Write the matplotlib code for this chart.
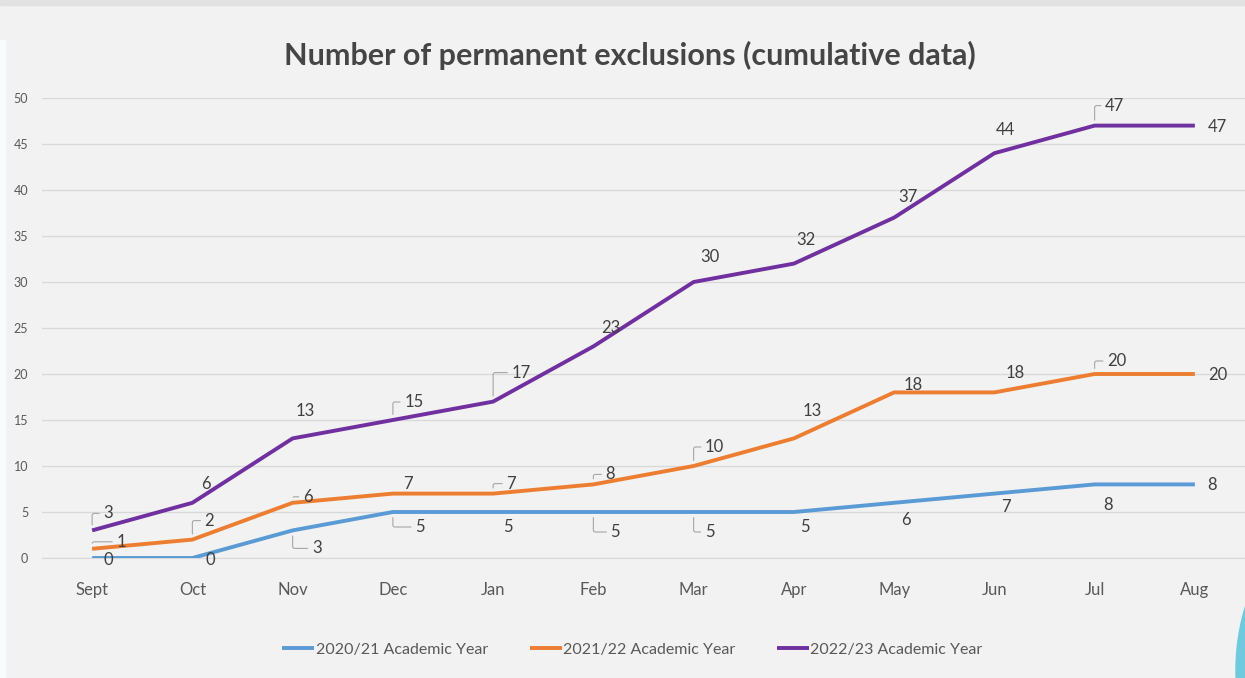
import matplotlib
matplotlib.use("Agg")
import matplotlib.pyplot as plt
from matplotlib.patches import Ellipse, Rectangle

# data
months = ["Sept", "Oct", "Nov", "Dec", "Jan", "Feb", "Mar", "Apr", "May", "Jun", "Jul", "Aug"]
series_names = ["2020/21 Academic Year", "2021/22 Academic Year", "2022/23 Academic Year"]
year_2020_21 = [0, 0, 3, 5, 5, 5, 5, 5, 6, 7, 8, 8]
year_2021_22 = [1, 2, 6, 7, 7, 8, 10, 13, 18, 18, 20, 20]
year_2022_23 = [3, 6, 13, 15, 17, 23, 30, 32, 37, 44, 47, 47]
y_ticks = [0, 5, 10, 15, 20, 25, 30, 35, 40, 45, 50]

# label offsets (pixels) per series, and whether a leader line is drawn
off_blue = [(16, -2), (18, -2), (24, -18), (27, -15), (15, -15), (22, -20),
            (16, -20), (11, -15), (12, -17), (12, -13), (13, -21), (17, -1)]
off_orange = [(29, 7), (17, 19), (15, 6), (15, 10), (18, 10), (17, 10),
              (21, 19), (18, 27), (19, 7), (21, 19), (22, 13), (23, -1)]
off_purple = [(16, 17), (14, 19), (13, 27), (21, 18), (28, 29), (17, 18),
              (16, 25), (12, 24), (14, 21), (11, 23), (20, 20), (23, -1)]
lead_blue = [0, 0, 1, 1, 0, 1, 1, 0, 0, 0, 0, 0]
lead_orange = [1, 1, 1, 0, 1, 1, 1, 0, 0, 0, 1, 0]
lead_purple = [1, 0, 0, 1, 1, 0, 0, 0, 0, 0, 1, 0]

colors = ["#5B9BD5", "#ED7D31", "#7030A0"]
plt.rcParams["font.family"] = ["Lato", "DejaVu Sans"]

fig = plt.figure(figsize=(12.45, 6.78), dpi=100)
fig.patch.set_facecolor("#f2f2f2")

# frame bits
fig.patches.append(Rectangle((0, 1 - 5 / 678), 1, 5 / 678, transform=fig.transFigure,
                             color="#e2e2e2", zorder=0))
fig.patches.append(Rectangle((0, 0), 5 / 1245, 1 - 40 / 678, transform=fig.transFigure,
                             color="#f7fdfd", zorder=0))

ax = fig.add_axes([42 / 1245, 1 - 558 / 678, 1 - 42 / 1245, (558 - 98) / 678])
ax.set_facecolor("#f2f2f2")

x = range(len(months))
all_series = [year_2020_21, year_2021_22, year_2022_23]
all_offsets = [off_blue, off_orange, off_purple]
all_leads = [lead_blue, lead_orange, lead_purple]
for vals, name, col, offs, leads in zip(all_series, series_names, colors,
                                        all_offsets, all_leads):
    ax.plot(x, vals, color=col, linewidth=2.8, label=name, solid_capstyle="butt",
            zorder=3)
    for i, (v, (dx, dy), ld) in enumerate(zip(vals, offs, leads)):
        props = None
        if ld:
            props = dict(arrowstyle="-", color="#a6a6a6", lw=0.8,
                         shrinkA=1, shrinkB=4,
                         connectionstyle="angle,angleA=0,angleB=90,rad=2")
        ax.annotate(str(v), (i, v), xytext=(dx, dy), textcoords="offset pixels",
                    ha="center", va="center", fontsize=12, color="#404040",
                    arrowprops=props, zorder=4)

ax.set_xlim(-0.5, len(months) - 0.5)
ax.set_ylim(0, 50)
ax.set_yticks(y_ticks)
ax.set_yticklabels([str(t) for t in y_ticks], fontsize=9, color="#595959")
ax.set_xticks(list(x))
ax.set_xticklabels(months, fontsize=12, color="#595959")
ax.tick_params(axis="y", length=0, pad=10)
ax.tick_params(axis="x", length=0, pad=17)
ax.grid(axis="y", color="#d9d9d9", linewidth=1)
ax.set_axisbelow(True)
for s in ["top", "right", "left"]:
    ax.spines[s].set_visible(False)
ax.spines["bottom"].set_color("#d9d9d9")

fig.text(0.506, 1 - 55 / 678, "Number of permanent exclusions (cumulative data)",
         ha="center", va="center", fontsize=22, fontweight="bold", color="#454545")

fig.legend(loc="center", bbox_to_anchor=(0.508, 1 - 650 / 678), ncol=3,
           frameon=False, fontsize=11.5, handlelength=2.0, handletextpad=0.1,
           columnspacing=2.6, labelcolor="#595959")

fig.patches.append(Ellipse((1454 / 1245, 1 - 670 / 678), 436 / 1245, 436 / 678,
                           transform=fig.transFigure, color="#6ECADC", zorder=5))

fig.savefig("out.png", dpi=100, facecolor=fig.get_facecolor())
